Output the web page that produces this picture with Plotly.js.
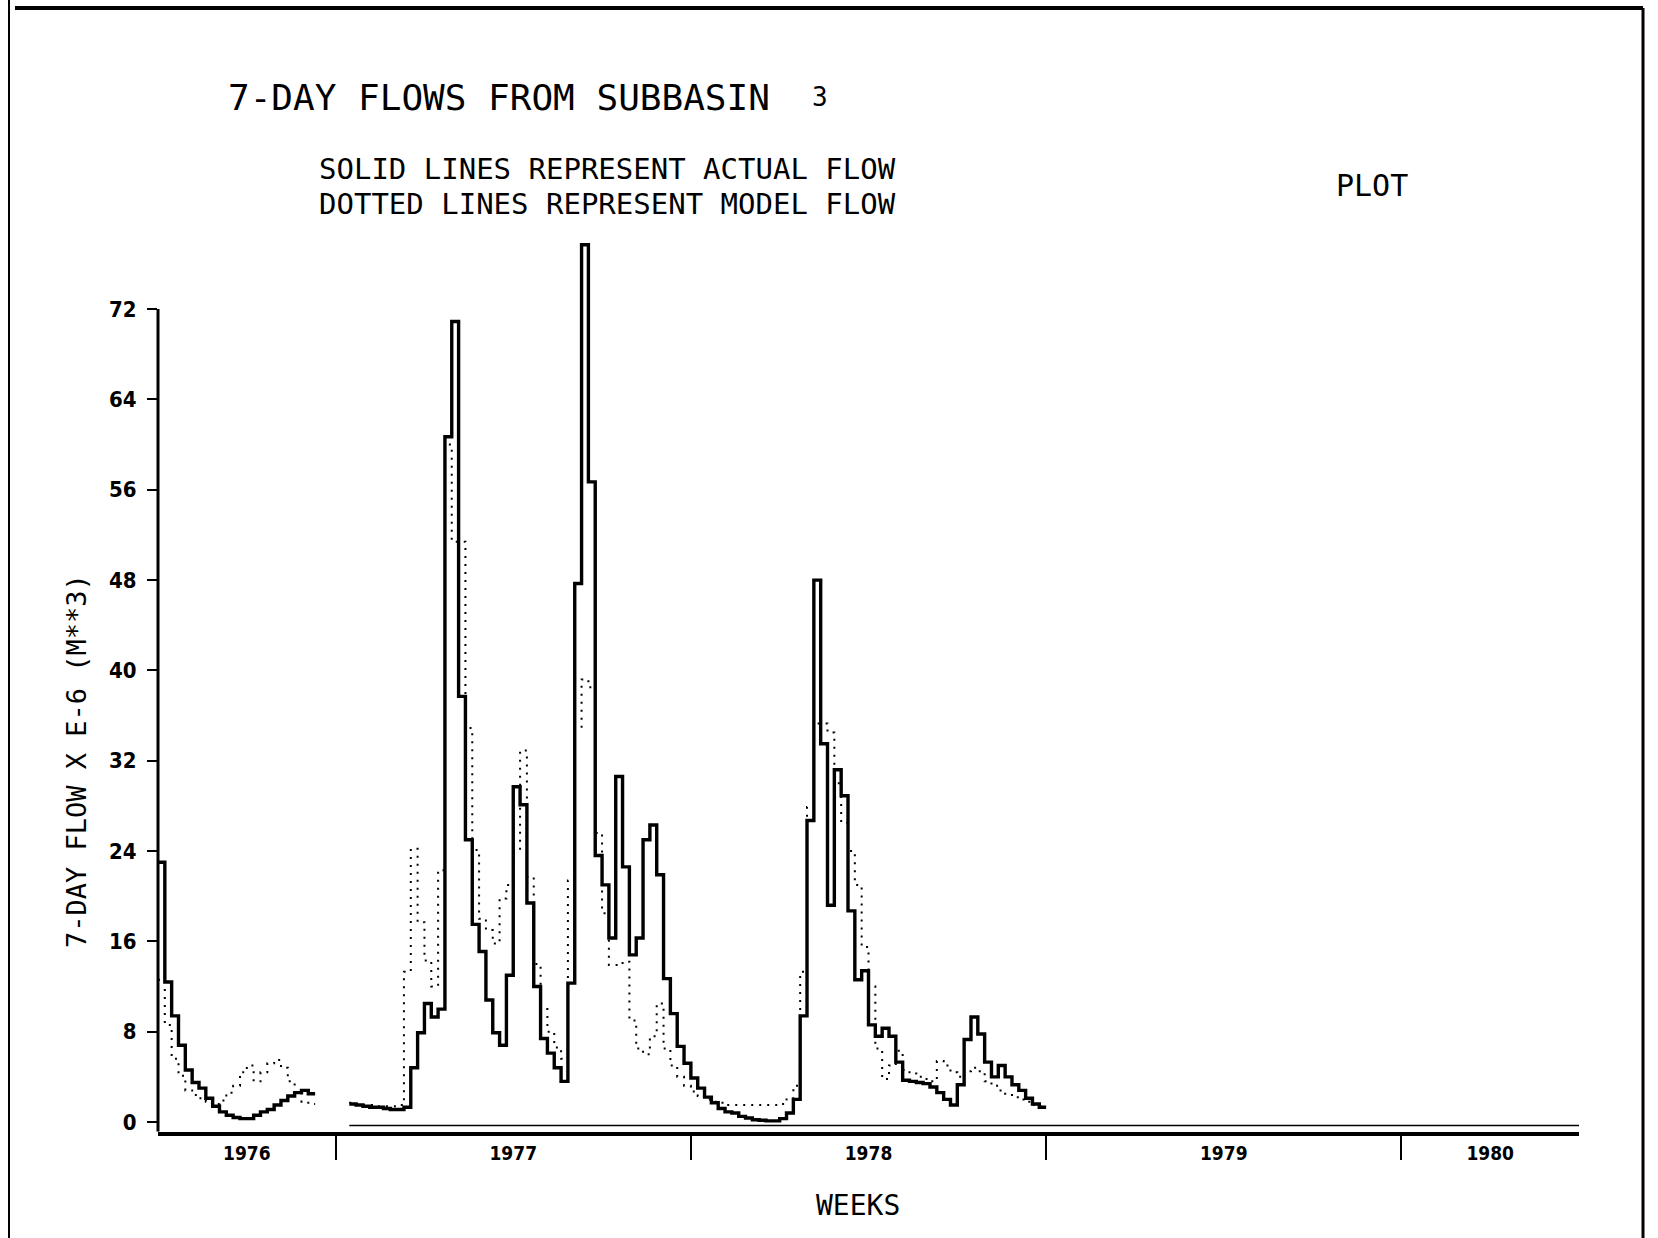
<!DOCTYPE html>
<html><head><meta charset="utf-8">
<script src="https://cdn.plot.ly/plotly-3.0.1.min.js"></script>
<style>html,body{margin:0;padding:0;background:#fff}</style>
</head><body><div id="chart" style="width:1658px;height:1238px"></div>
<script>
// ---------- DATA ----------
// Weeks counted from the start of the plotted period (mid 1976)
const weeks1976 = [0,1,2,3,4,5,6,7,8,9,10,11,12,13,14,15,16,17,18,19,20,21,22];
const actual1976 = [23,12.4,9.4,6.8,4.6,3.5,3.0,2.1,1.4,0.9,0.6,0.4,0.3,0.3,0.6,0.9,1.1,1.5,1.9,2.3,2.6,2.8,2.5];
const model1976  = [12.6,8.6,5.6,4.1,2.8,2.4,2.1,1.8,1.6,1.9,2.6,3.2,4.4,5.0,3.6,4.4,5.2,5.5,4.8,3.6,2.6,1.8,1.6];

const weeks7778 = [28,29,30,31,32,33,34,35,36,37,38,39,40,41,42,43,44,45,46,47,48,49,50,51,52,53,54,55,56,57,58,59,60,61,62,63,64,65,66,67,68,69,70,71,72,73,74,75,76,77,78,79,80,81,82,83,84,85,86,87,88,89,90,91,92,93,94,95,96,97,98,99,100,101,102,103,104,105,106,107,108,109,110,111,112,113,114,115,116,117,118,119,120,121,122,123,124,125,126,127,128,129];
const actual7778 = [1.6,1.5,1.4,1.3,1.3,1.2,1.1,1.1,1.3,4.8,7.9,10.5,9.3,10.0,60.7,70.9,37.7,25.0,17.5,15.1,10.8,7.9,6.8,13.0,29.7,28.1,19.4,12.0,7.4,6.1,4.8,3.6,12.3,47.7,77.7,56.7,23.6,21.0,16.3,30.6,22.6,14.8,16.3,25.0,26.3,21.9,12.7,9.6,6.7,5.2,3.9,3.0,2.2,1.7,1.2,0.9,0.8,0.5,0.35,0.2,0.15,0.1,0.1,0.3,0.8,2.0,9.4,26.7,48.0,33.5,19.2,31.2,28.9,18.7,12.6,13.4,8.6,7.6,8.3,7.6,5.3,3.7,3.6,3.5,3.4,3.1,2.6,2.0,1.5,3.3,7.3,9.3,7.8,5.3,4.0,5.0,4.0,3.3,2.8,2.1,1.6,1.3];
const model7778  = [1.7,1.6,1.5,1.5,1.4,1.4,1.4,1.5,13.3,24.2,17.7,14.3,12.0,22.3,60.0,51.4,51.4,34.9,24.1,18.0,17.0,15.8,19.8,21.0,24.1,32.9,21.7,14.0,10.0,8.0,6.6,5.6,21.4,35.0,39.2,38.5,25.6,18.5,13.9,13.9,14.2,9.0,6.5,6.0,7.6,10.5,6.5,5.0,4.0,3.2,2.7,2.3,2.0,1.8,1.7,1.5,1.5,1.5,1.5,1.5,1.5,1.5,1.5,1.6,2.0,3.2,13.3,27.9,35.3,35.3,34.5,30.0,26.5,24.0,21.0,15.5,12.0,6.5,3.8,5.0,6.3,4.6,4.3,4.0,3.8,3.6,5.4,5.0,4.4,4.0,4.5,4.8,4.5,3.6,3.2,2.8,2.5,2.2,2.0,1.8,1.5,1.4];

const yearLabels = ['1976','1977','1978','1979','1980'];
const yearEdges  = [0,26,78,130,182,208];   // week positions of year boundaries (axis ends included)
const yTickVals  = [0,8,16,24,32,40,48,56,64,72];
const yTickText  = ['0','8','16','24','32','40','48','56','64','72'];

// ---------- BUILD ----------
function steps(weeks, vals){
  return { x: weeks.concat([weeks[weeks.length-1]+1]), y: vals.concat([vals[vals.length-1]]) };
}
function joined(a, b){
  return { x: a.x.concat([null], b.x), y: a.y.concat([null], b.y) };
}
const act = joined(steps(weeks1976, actual1976), steps(weeks7778, actual7778));
const mod = joined(steps(weeks1976, model1976), steps(weeks7778, model7778));

const mids = [];
for (let i = 0; i < yearLabels.length; i++) mids.push((yearEdges[i] + yearEdges[i+1]) / 2);
const innerEdges = yearEdges.slice(1, -1);

const W = 1658, H = 1238;
const px = v => v / W, py = v => 1 - v / H;
const MONO = 'DejaVu Sans Mono, monospace';
const COND = 'DejaVu Sans Condensed, Liberation Sans Narrow, DejaVu Sans, sans-serif';
const yMin = -0.86, yMax = 80;

const traces = [
  { x: mod.x, y: mod.y, mode: 'lines', connectgaps: false, hoverinfo: 'skip',
    line: { shape: 'hv', color: '#000', width: 2, dash: '2px,6px' }, name: 'MODEL FLOW' },
  { x: act.x, y: act.y, mode: 'lines', connectgaps: false, hoverinfo: 'skip',
    line: { shape: 'hv', color: '#000', width: 3.4 }, name: 'ACTUAL FLOW' }
];

const ann = (text, x, y, size, opts) => Object.assign({
  text: text, xref: 'paper', yref: 'paper', x: px(x), y: py(y), showarrow: false,
  xanchor: 'left', yanchor: 'middle', font: { family: MONO, size: size, color: '#000' }
}, opts || {});

const layout = {
  width: W, height: H, margin: { l: 0, r: 0, t: 0, b: 0 },
  paper_bgcolor: '#fff', plot_bgcolor: '#fff', showlegend: false,
  font: { family: MONO, color: '#000' },
  title: { text: '7-DAY FLOWS FROM SUBBASIN', x: px(228), xanchor: 'left', xref: 'paper',
           y: py(97), yanchor: 'middle', font: { family: MONO, size: 36, color: '#000' } },
  xaxis: {
    domain: [px(158), px(1579)], range: [yearEdges[0], yearEdges[yearEdges.length-1]],
    showline: true, linewidth: 4, linecolor: '#000', showgrid: false, zeroline: false,
    tickmode: 'array', tickvals: mids, ticktext: yearLabels, ticks: '',
    ticklabelstandoff: 1,
    tickfont: { family: COND, size: 19, weight: 'bold', color: '#000' },
    minor: { tickmode: 'array', tickvals: innerEdges, ticks: 'outside', ticklen: 24,
             tickwidth: 2, tickcolor: '#000', showgrid: false }
  },
  yaxis: {
    domain: [py(1131.7), py(1122 - yMax * 11.29)], range: [yMin, yMax],
    showline: false, showgrid: false, zeroline: false,
    tickmode: 'array', tickvals: yTickVals, ticktext: yTickText,
    ticks: 'outside', ticklen: 10, tickwidth: 2, tickcolor: '#000',
    ticklabelstandoff: 6,
    tickfont: { family: COND, size: 22, weight: 'bold', color: '#000' }
  },
  shapes: [
    // y axis line from bottom up to the highest tick
    { type: 'line', xref: 'paper', yref: 'y', x0: px(158), x1: px(158), y0: yMin, y1: Math.max(...yTickVals),
      line: { color: '#000', width: 3 } },
    // zero baseline under the 1977-1978 record
    { type: 'line', xref: 'x', yref: 'y', x0: weeks7778[0], x1: yearEdges[yearEdges.length-1], y0: -0.3, y1: -0.3,
      line: { color: '#000', width: 1.5 } },
    // frame
    { type: 'line', xref: 'paper', yref: 'paper', x0: px(9), x1: px(9), y0: 0, y1: 1, line: { color: '#000', width: 2 } },
    { type: 'line', xref: 'paper', yref: 'paper', x0: px(15), x1: px(1643), y0: py(8), y1: py(8), line: { color: '#000', width: 4 } },
    { type: 'line', xref: 'paper', yref: 'paper', x0: px(1643), x1: px(1643), y0: 0, y1: py(8), line: { color: '#000', width: 3 } }
  ],
  annotations: [
    ann('3', 810, 97, 26),
    ann('SOLID LINES REPRESENT ACTUAL FLOW', 317, 169, 29),
    ann('DOTTED LINES REPRESENT MODEL FLOW', 317, 204, 29),
    ann('PLOT', 1334, 185, 30),
    ann('7-DAY FLOW X E-6 (M**3)', 76, 761, 27, { xanchor: 'center', textangle: -90 }),
    ann('WEEKS', 858, 1205, 28, { xanchor: 'center' })
  ]
};

Plotly.newPlot('chart', traces, layout, { staticPlot: true, displayModeBar: false });
</script>
</body></html>
